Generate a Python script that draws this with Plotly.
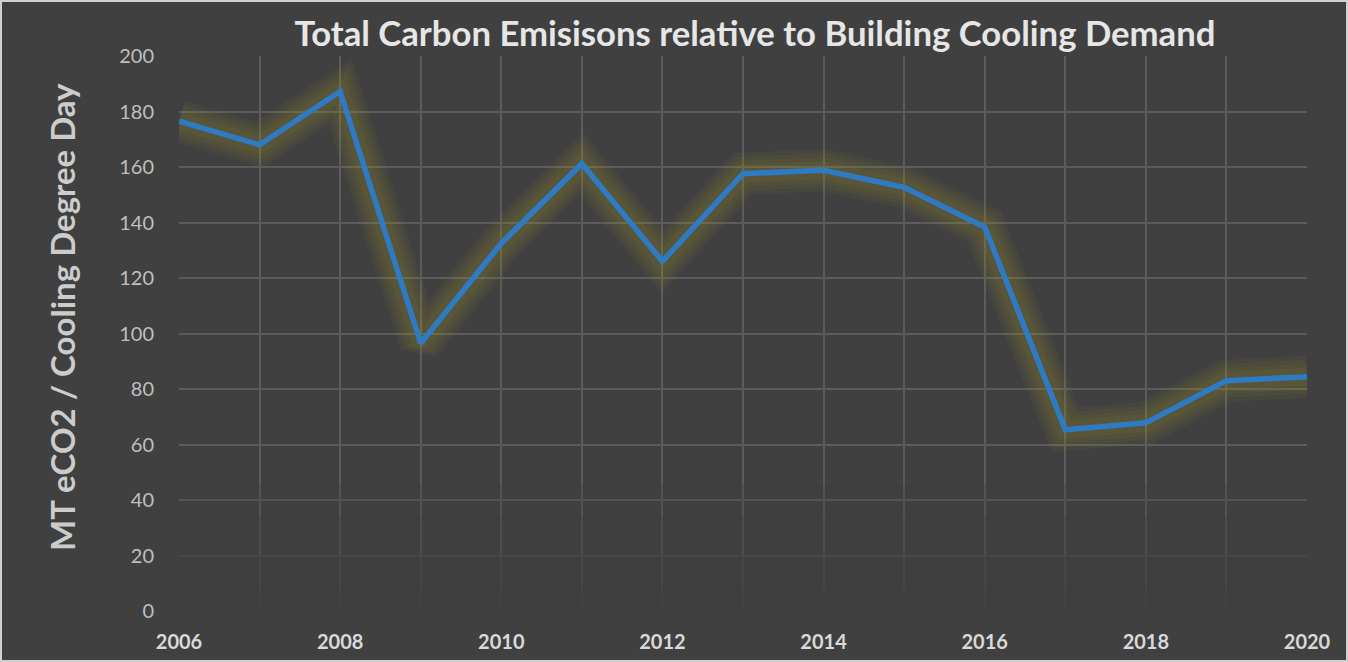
import plotly.graph_objects as go

years = list(range(2006, 2021))
values = [176.5, 168.0, 187.2, 96.5, 132.5, 161.2, 126.0, 157.6, 158.8, 152.7, 138.4, 65.3, 67.8, 83.0, 84.4]

title_text = "Total Carbon Emisisons relative to Building Cooling Demand"
y_title = "MT eCO2 / Cooling Degree Day"
y_ticks = [0, 20, 40, 60, 80, 100, 120, 140, 160, 180, 200]
x_ticktext = [str(y) if y % 2 == 0 else "" for y in years]

W, H = 1348, 670
L, R, T, B = 179, 41, 56, 59
PW, PH = W - L - R, H - T - B

fig = go.Figure()

# glow layers
for w in [42, 34, 26, 18]:
    fig.add_trace(go.Scatter(x=years, y=values, mode="lines",
                             line=dict(color="rgba(145,138,45,0.085)", width=w),
                             hoverinfo="skip", showlegend=False))

fig.add_trace(go.Scatter(x=years, y=values, mode="lines",
                         line=dict(color="#2e7bc4", width=5.5),
                         showlegend=False))

# fade of gridlines near bottom
for top, op in [(46, 0.3), (34, 0.35), (20, 0.45), (8, 0.6)]:
    fig.add_shape(type="rect", xref="x", yref="y", x0=2005.9, x1=2020.1, y0=-2, y1=top,
                  fillcolor="#404040", opacity=op, line_width=0, layer="above")

fig.add_shape(type="rect", xref="paper", yref="paper",
              x0=-(L - 1) / PW, x1=1 + (R - 1) / PW, y0=-(B - 9) / PH, y1=1 + (T - 1) / PH,
              line=dict(color="#d0d0d0", width=2), fillcolor="rgba(0,0,0,0)")

fig.add_annotation(text=f"<b>{y_title}</b>", textangle=-90, showarrow=False,
                   xref="paper", yref="paper",
                   x=(62 - L) / PW, y=1 - (317 - T) / PH,
                   xanchor="center", yanchor="middle",
                   font=dict(family="Lato", size=33, color="#cccccc"))

fig.update_layout(
    width=W, height=H,
    paper_bgcolor="#404040", plot_bgcolor="#404040",
    margin=dict(l=L, r=R, t=T, b=B),
    title=dict(text=f"<b>{title_text}</b>", x=755 / W, xanchor="center",
               y=1 - 34 / H, yanchor="middle",
               font=dict(family="Lato", size=34.7, color="#e6e6e6")),
    font=dict(family="Lato"),
)

fig.update_xaxes(range=[2006, 2020], tickvals=years, ticktext=x_ticktext,
                 showgrid=True, gridcolor="#5c5c5c", gridwidth=1.5,
                 zeroline=False, showline=False,
                 ticks="outside", ticklen=13, tickcolor="rgba(0,0,0,0)",
                 tickfont=dict(family="Lato", size=20, color="#d9d9d9", weight="bold"))

fig.update_yaxes(range=[0, 200], tickvals=y_ticks,
                 showgrid=True, gridcolor="#5c5c5c", gridwidth=1.5,
                 zeroline=False, showline=False,
                 ticks="outside", ticklen=20, tickcolor="rgba(0,0,0,0)",
                 tickfont=dict(family="Lato", size=20, color="#bfbfbf"))

post = ("document.body.style.margin='0';"
        "document.body.style.background='#404040';")

fig.write_html("out.html", config={"displayModeBar": False}, post_script=post)
